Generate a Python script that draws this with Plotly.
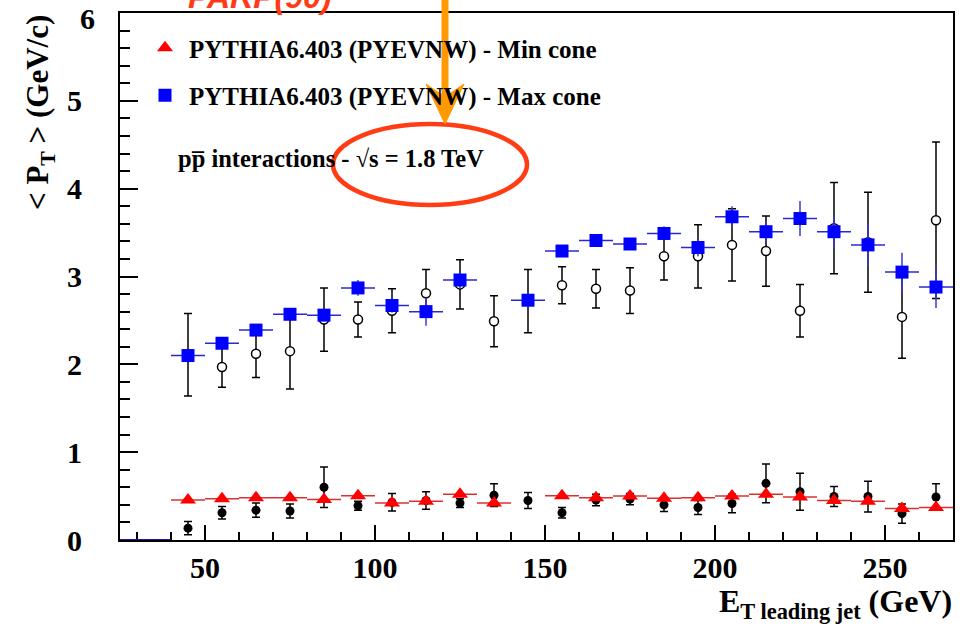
import plotly.graph_objects as go

# ---------------- data ----------------
bin_centers = [45, 55, 65, 75, 85, 95, 105, 115, 125, 135, 145, 155,
               165, 175, 185, 195, 205, 215, 225, 235, 245, 255, 265]
bin_half_width = 5

# CDF data, max cone (open circles)
data_max = [2.11, 1.97, 2.12, 2.15, 2.51, 2.51, 2.61, 2.81, 2.91, 2.49, 2.72, 2.90,
            2.86, 2.84, 3.23, 3.23, 3.36, 3.29, 2.61, 3.55, 3.39, 2.54, 3.64]
data_max_err = [0.47, 0.23, 0.27, 0.43, 0.36, 0.20, 0.25, 0.27, 0.28, 0.29, 0.36, 0.21,
                0.22, 0.26, 0.27, 0.36, 0.41, 0.40, 0.30, 0.52, 0.57, 0.47, 0.89]

# CDF data, min cone (filled circles)
data_min = [0.135, 0.31, 0.34, 0.33, 0.60, 0.39, 0.43, 0.45, 0.42, 0.51, 0.45, 0.31,
            0.455, 0.465, 0.40, 0.37, 0.415, 0.645, 0.55, 0.495, 0.495, 0.30, 0.49]
data_min_err = [0.075, 0.07, 0.08, 0.08, 0.23, 0.05, 0.10, 0.10, 0.05, 0.13, 0.09, 0.06,
                0.065, 0.065, 0.075, 0.08, 0.105, 0.22, 0.21, 0.115, 0.175, 0.11, 0.15]

# PYTHIA6.403 (PYEVNW) min cone (red triangles)
mc_min = [0.456, 0.47, 0.48, 0.48, 0.46, 0.505, 0.42, 0.44, 0.52, 0.42, None, 0.505,
          0.48, 0.50, 0.475, 0.48, 0.50, 0.52, 0.49, 0.45, 0.44, 0.36, 0.37]

# PYTHIA6.403 (PYEVNW) max cone (blue squares)
mc_max = [2.10, 2.24, 2.39, 2.57, 2.56, 2.87, 2.67, 2.60, 2.96, None, 2.73, 3.29,
          3.41, 3.37, 3.49, 3.33, 3.68, 3.51, 3.66, 3.51, 3.36, 3.05, 2.88]
mc_max_err = [0.05, 0.05, 0.05, 0.05, 0.06, 0.09, 0.08, 0.16, 0.10, 0, 0.10, 0.06,
              0.05, 0.06, 0.08, 0.10, 0.12, 0.12, 0.20, 0.19, 0.24, 0.22, 0.24]

# empty MC max-cone bins below the first filled bin
empty_bins = [25, 35]
empty_vals = [0, 0]

x_tick_vals = [50, 100, 150, 200, 250]
y_tick_vals = [0, 1, 2, 3, 4, 5, 6]
y_tick_text = ["0", "1", "2", "3", "4", "5", ""]   # top label drawn lowered, as in the original
y_top_label = "6"

# ---------------- layout helpers ----------------
W, H = 965, 632
L, R, T, B = 120, 953, 13, 540


def px(x):
    return (x - L) / (R - L)


def py(y):
    return (B - y) / (B - T)


SERIF = "Liberation Serif"

fig = go.Figure()

# data: max cone (open circles)
fig.add_trace(go.Scatter(
    x=bin_centers, y=data_max, mode="markers", showlegend=False,
    marker=dict(symbol="circle", size=9, color="white",
                line=dict(color="black", width=1.5)),
    error_y=dict(type="data", array=data_max_err, color="black",
                 thickness=1.5, width=4),
))

# data: min cone (filled circles)
fig.add_trace(go.Scatter(
    x=bin_centers, y=data_min, mode="markers", showlegend=False,
    marker=dict(symbol="circle", size=9, color="black"),
    error_y=dict(type="data", array=data_min_err, color="black",
                 thickness=1.5, width=4),
))

# empty bins of max cone histogram
fig.add_trace(go.Scatter(
    x=empty_bins, y=empty_vals, mode="markers", showlegend=False,
    marker=dict(size=0.1, color="rgba(0,0,0,0)"),
    error_x=dict(type="constant", value=bin_half_width, color="#1a1aa0",
                 thickness=2, width=0),
))

# MC min cone
fig.add_trace(go.Scatter(
    x=bin_centers, y=mc_min, mode="markers",
    name="PYTHIA6.403 (PYEVNW) - Min cone", legendgroup="a",
    marker=dict(symbol="triangle-up", size=14, color="#ff0000"),
    error_x=dict(type="constant", value=bin_half_width, color="#d83030",
                 thickness=1.5, width=0),
))

# MC max cone
fig.add_trace(go.Scatter(
    x=bin_centers, y=mc_max, mode="markers",
    name="PYTHIA6.403 (PYEVNW) - Max cone", legendgroup="b",
    marker=dict(symbol="square", size=13, color="#0000ff"),
    error_x=dict(type="constant", value=bin_half_width, color="#2a2acc",
                 thickness=1.5, width=0),
    error_y=dict(type="data", array=mc_max_err, color="#3a3acc",
                 thickness=1.5, width=0),
))

axis_font = dict(family=SERIF, size=30, color="black", weight="bold")

fig.update_layout(
    width=W, height=H,
    margin=dict(l=L, r=W - R, t=T, b=H - B, pad=0, autoexpand=False),
    paper_bgcolor="white", plot_bgcolor="white",
    font=dict(family=SERIF, color="black"),
    legend=dict(
        x=px(141), y=py(25), xanchor="left", yanchor="top",
        bgcolor="rgba(0,0,0,0)", borderwidth=0,
        font=dict(family=SERIF, size=25, color="black", weight="bold"),
        tracegroupgap=12, itemsizing="trace", itemwidth=38,
    ),
    xaxis=dict(
        range=[25, 270], tickvals=x_tick_vals, ticks="inside", ticklen=15,
        tickwidth=2, tickcolor="black", tickfont=axis_font,
        minor=dict(dtick=10, tick0=0, ticks="inside", ticklen=8,
                   tickwidth=1.5, tickcolor="black"),
        showline=True, linewidth=2, linecolor="black", mirror=True,
        showgrid=False, zeroline=False, layer="below traces",
        ticklabelstandoff=0, ticklabeloverflow="allow", automargin=False,
    ),
    yaxis=dict(
        range=[0, 6], tickvals=y_tick_vals, ticktext=y_tick_text,
        ticks="inside", ticklen=18,
        tickwidth=2, tickcolor="black", tickfont=axis_font,
        minor=dict(dtick=0.2, tick0=0, ticks="inside", ticklen=10,
                   tickwidth=1.5, tickcolor="black"),
        showline=True, linewidth=2, linecolor="black", mirror=True,
        showgrid=False, zeroline=False,
        ticklabelstandoff=30, ticklabeloverflow="allow", automargin=False,
    ),
)

annotations = [
    # top y tick label, lowered to stay inside the page
    dict(text=f"<b>{y_top_label}</b>", x=px(97), y=py(18),
         xref="paper", yref="paper", showarrow=False,
         xanchor="right", yanchor="middle",
         font=dict(family=SERIF, size=30, color="black")),
    # y axis title
    dict(text="<b>&lt; P<sub>T</sub> &gt; (GeV/c)</b>", x=px(40), y=py(113),
         xref="paper", yref="paper", textangle=-90, showarrow=False,
         xanchor="center", yanchor="middle",
         font=dict(family=SERIF, size=31, color="black")),
    # x axis title
    dict(text="<b>E<sub>T leading jet</sub> (GeV)</b>", x=px(954), y=py(603),
         xref="paper", yref="paper", showarrow=False,
         xanchor="right", yanchor="middle",
         font=dict(family=SERIF, size=32, color="black")),
    # collision info
    dict(text="<b>pp\u0305 interactions - \u221as = 1.8 TeV</b>", x=px(176), y=py(158),
         xref="paper", yref="paper", showarrow=False,
         xanchor="left", yanchor="middle",
         font=dict(family=SERIF, size=24.5, color="black")),
    # cut-off red title at top
    dict(text="<b><i>PARP(90)</i></b>", x=px(186), y=py(-3),
         xref="paper", yref="paper", showarrow=False,
         xanchor="left", yanchor="middle",
         font=dict(family="Liberation Sans", size=32, color="#ff3a14")),
]
fig.update_layout(annotations=annotations)

# ellipse highlight
fig.add_shape(type="circle", xref="paper", yref="paper",
              x0=px(333), x1=px(527), y0=py(205), y1=py(124),
              line=dict(color="#ff3c14", width=4.5))
# orange arrow: shaft and head
fig.add_shape(type="line", xref="paper", yref="paper",
              x0=px(445), x1=px(445), y0=py(-5), y1=py(100),
              line=dict(color="#ff9900", width=7))
head = (f"M {px(426)},{py(84)} L {px(445)},{py(124)} L {px(464)},{py(84)} "
        f"L {px(445)},{py(97)} Z")
fig.add_shape(type="path", xref="paper", yref="paper", path=head,
              fillcolor="#ff9900", line=dict(color="#ff9900", width=1))

fig.write_html("out.html")
